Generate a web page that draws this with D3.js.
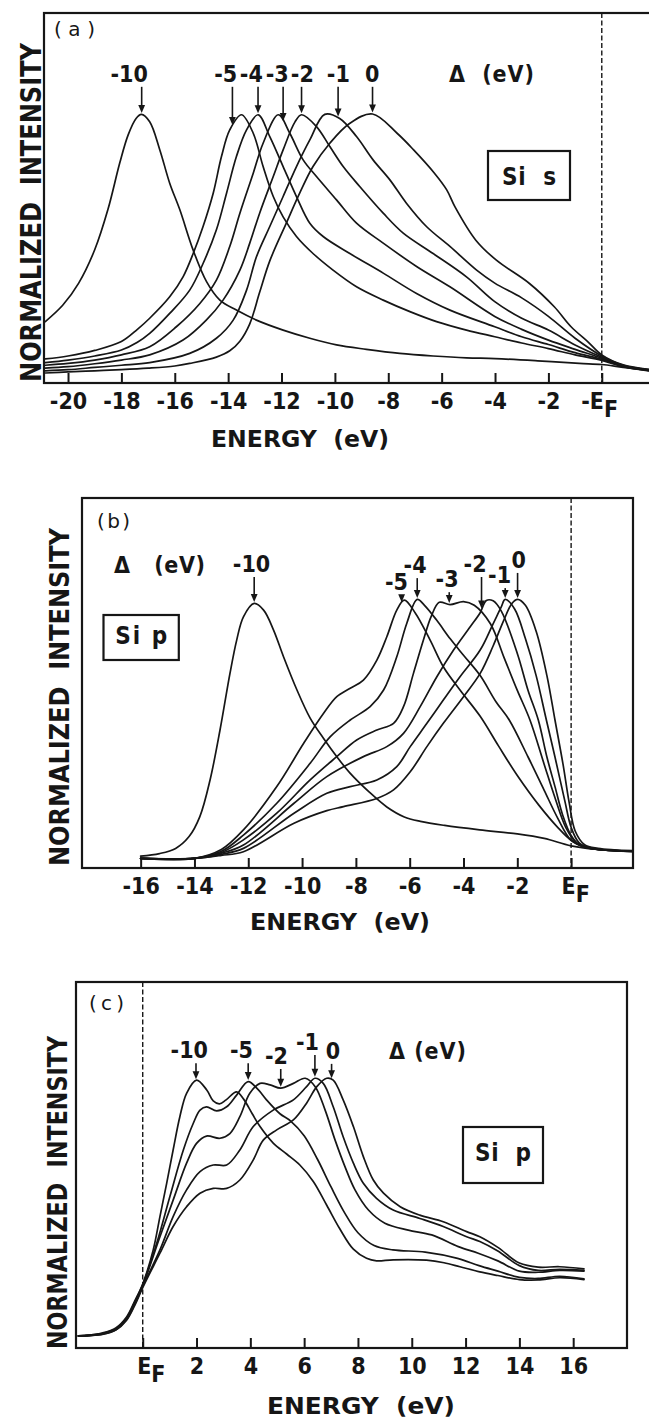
<!DOCTYPE html>
<html><head><meta charset="utf-8">
<script src="https://cdn.jsdelivr.net/npm/d3@7"></script>
<style>
body{margin:0;background:#fff}
svg{display:block;background:#fff}
text{font-family:"DejaVu Sans Condensed","DejaVu Sans",sans-serif;fill:#161616;white-space:pre}
</style></head><body>
<script>
// ---------------- DATA ----------------
// Panel (a): Si s, energy (eV) vs normalized intensity (0-100 of frame height)
const deltaA = ["-10","-5","-4","-3","-2","-1","0"];
const a_d10 = [[-20.85,16.6],[-20.2,21],[-19.6,27],[-19.0,36],[-18.5,47],[-18.06,59.5],[-17.75,67],[-17.45,71.5],[-17.25,72.6],[-16.94,70.6],[-16.56,63],[-16.19,54],[-15.81,46.8],[-15.31,35.9],[-14.81,27.4],[-14.31,22.4],[-13.69,19.7],[-12.94,17],[-11.94,14.3],[-10.94,12.1],[-9.94,10.3],[-8.82,9.1],[-7.57,8.0],[-6.32,7.3],[-5.07,6.8],[-4.0,6.6],[-2.4,6.0],[-0.84,5.3],[0,5.0],[0.8,4.2],[1.76,3.4]];
const a_d5 = [[-20.85,6.5],[-20,7.3],[-19,8.8],[-18,11.2],[-17.4,14.5],[-16.94,17.5],[-16.19,23.3],[-15.69,28.7],[-15.31,35],[-14.94,42.3],[-14.56,51.3],[-14.25,61.2],[-13.94,68.4],[-13.5,72.5],[-13.06,67.5],[-12.69,58.5],[-12.31,50.4],[-11.94,44.9],[-11.44,39.6],[-10.82,35],[-10.07,30.5],[-9.19,26],[-8.19,22.4],[-7.19,19.3],[-6.19,16.6],[-5.07,14.3],[-4.01,12.5],[-3,10.8],[-2,9.3],[-1,7.6],[0,6.1],[0.8,4.4],[1.76,3.3]];
const a_d4 = [[-20.85,5.5],[-20,6.2],[-19,7.3],[-18,8.9],[-17.4,11],[-16.94,13.4],[-16.19,18.8],[-15.44,25.1],[-14.94,32.3],[-14.44,41.4],[-14.06,51.3],[-13.69,61.2],[-13.31,68.4],[-12.88,72.5],[-12.44,66.6],[-11.94,58.5],[-11.44,50.4],[-10.94,43.2],[-10.44,39.6],[-9.44,35],[-8.19,29.7],[-6.94,24.2],[-5.69,19.7],[-4.01,15.2],[-3,12.5],[-2,10.4],[-1,8.2],[0,6.4],[0.8,4.5],[1.76,3.4]];
const a_d3 = [[-20.85,4.8],[-20,5.3],[-19,6.2],[-18,7.6],[-16.94,9.8],[-15.94,15.2],[-15.06,21.5],[-14.44,27.8],[-13.94,36.9],[-13.56,45.9],[-13.06,56.7],[-12.69,64.8],[-12.12,72.5],[-11.69,67.5],[-11.19,60.3],[-10.69,55.8],[-9.94,49.5],[-9.19,43.2],[-8.19,37.8],[-6.94,31.5],[-5.69,26],[-4.01,18],[-3,14.5],[-2,11.6],[-1,9.1],[0,6.7],[0.8,4.6],[1.76,3.5]];
const a_d2 = [[-20.85,4.0],[-20,4.4],[-19,5.2],[-18,6.2],[-16.94,7.6],[-15.69,11.6],[-14.82,17.0],[-14.19,22.4],[-13.56,30.5],[-13.19,37.8],[-12.82,45.9],[-12.31,55.8],[-11.94,63],[-11.5,70.5],[-11.25,72.5],[-10.69,69.3],[-10.19,63.9],[-9.69,58.5],[-9.07,53.1],[-8.19,45.9],[-7.44,40.5],[-6.32,35],[-5.07,28.7],[-4.01,22],[-3,17.5],[-2,14.3],[-1,10.3],[0,7.0],[0.8,4.7],[1.76,3.5]];
const a_d1 = [[-20.85,3.3],[-20,3.6],[-19,4.2],[-18,4.8],[-16.94,5.5],[-15.44,8.0],[-14.44,12.1],[-13.81,17.0],[-13.31,25.1],[-12.94,34.1],[-12.44,42.3],[-11.94,50.4],[-11.44,58.5],[-10.94,65.7],[-10.38,72.6],[-9.82,71.5],[-9.19,66.6],[-8.57,60.3],[-7.94,54.9],[-7.32,48.6],[-6.57,42.3],[-5.69,36.9],[-4.69,30.5],[-4.01,27],[-3,23],[-2,18],[-1,12.1],[0,7.3],[0.8,4.8],[1.76,3.6]];
const a_d0 = [[-20.85,2.7],[-20,3.0],[-19,3.3],[-18,3.6],[-17,4.0],[-16,4.6],[-15.44,5.3],[-14.44,7.0],[-13.94,8.7],[-13.56,11.3],[-13.19,16],[-12.82,24.5],[-12.44,33],[-11.82,43.2],[-11.32,51.3],[-10.82,58.5],[-10.19,64.8],[-9.44,70.2],[-8.59,72.7],[-7.67,67.5],[-7.05,63],[-6.27,56.7],[-5.81,52.2],[-5.5,47.6],[-4.72,38.6],[-3.95,33.2],[-2.71,26.9],[-1.78,20.6],[-1.15,15.2],[-0.5,11],[0,7.6],[0.8,4.9],[1.76,3.7]];
const peakLabelEA = [-17.71,-14.09,-13.13,-12.16,-11.22,-9.87,-8.6];
const arrowEA = [-17.24,-13.84,-12.88,-11.94,-11.25,-9.88,-8.59];
const labelVA = [81.4,81.4,81.4,81.4,81.4,81.4,81.4];
const ticksA = [-20,-18,-16,-14,-12,-10,-8,-6,-4,-2,0];

// Panel (b): Si p, occupied side
const deltaB = ["-10","-5","-4","-3","-2","-1","0"];
const b_d10 = [[-16,3.2],[-15.3,3.9],[-14.7,5.3],[-14.2,8.5],[-13.8,13.9],[-13.42,23.8],[-13.05,37.3],[-12.68,52.6],[-12.43,61.6],[-12.18,67.9],[-11.78,71.5],[-11.43,69.7],[-11.06,64.3],[-10.69,57.1],[-10.19,48.1],[-9.7,40.5],[-9.2,35],[-8.7,30],[-8.2,25.5],[-7.5,20.5],[-6.85,16.5],[-6.2,13.8],[-5.6,12.6],[-4.7,11.5],[-3.4,10.3],[-2,9.2],[-1,8],[0,6],[1,5],[2.3,4.6]];
const b_d5 = [[-16,2.6],[-14,2.6],[-13,5],[-12.18,10.3],[-10.94,22],[-9.94,33.7],[-9.2,41.8],[-8.71,46.3],[-8.21,48.6],[-7.72,50.8],[-7.22,56.2],[-6.85,62.5],[-6.48,69.7],[-6.2,72.4],[-5.8,69],[-5.24,61.6],[-4.75,54.4],[-4.13,48.1],[-3.38,41],[-2.7,33],[-2.0,25],[-1.2,17],[-0.5,11],[0,7.5],[0.5,5.6],[1.2,4.9],[2.3,4.5]];
const b_d4 = [[-16,2.6],[-14,2.6],[-13,4.5],[-12.18,8.9],[-10.94,17.5],[-9.7,28.3],[-8.95,35.5],[-8.21,40],[-7.47,43.6],[-6.97,48.1],[-6.48,57.1],[-6.11,66.1],[-5.72,72.6],[-5.45,71],[-5.0,67],[-4.5,62],[-4.0,57.5],[-3.38,52],[-2.8,45],[-2.3,40],[-1.6,30],[-1.0,21],[-0.5,13.5],[0,7.5],[0.5,5.7],[1.2,4.9],[2.3,4.5]];
const b_d3 = [[-16,2.6],[-14,2.6],[-13,4.2],[-12.18,7.6],[-10.94,14.8],[-9.7,23.8],[-8.71,30.1],[-7.97,34.6],[-7.22,37.3],[-6.6,39.1],[-6.23,43.6],[-5.86,52.6],[-5.49,61.6],[-5.2,68],[-4.9,71.8],[-4.5,71.2],[-4.0,72],[-3.6,71],[-3.0,66],[-2.5,57],[-2.0,48],[-1.53,40],[-1.0,28],[-0.6,19],[-0.2,11],[0.2,6.8],[0.7,5.4],[1.3,4.8],[2.3,4.5]];
const b_d2 = [[-16,2.6],[-14,2.6],[-13,4],[-12.18,6.2],[-10.3,17.5],[-9.08,24.7],[-7.72,30.1],[-6.85,32.8],[-6.23,36.4],[-5.61,43.6],[-4.99,51.7],[-4.37,58.9],[-3.75,65.2],[-3.38,69],[-3.15,72.3],[-2.9,72.2],[-2.6,69.5],[-2.0,58],[-1.6,48],[-1.22,40],[-0.9,30],[-0.6,22],[-0.3,14],[0,8.8],[0.3,6.3],[0.8,5.2],[1.5,4.7],[2.3,4.5]];
const b_d1 = [[-16,2.6],[-14,2.6],[-13,3.7],[-12.18,5.3],[-10.3,14.8],[-9.08,20.2],[-8.21,22],[-7.22,23.8],[-6.48,27.4],[-5.98,32.8],[-5.36,39.1],[-4.75,45.4],[-4.13,51.7],[-3.38,58.9],[-2.9,66],[-2.6,70.5],[-2.45,72.6],[-2.1,70],[-1.7,62],[-1.3,52],[-0.92,40],[-0.6,30],[-0.23,18],[0,11],[0.3,6.8],[0.8,5.3],[1.5,4.8],[2.3,4.6]];
const b_d0 = [[-16,2.6],[-14,2.6],[-13,3.4],[-12.18,4.4],[-10.3,12.1],[-9.08,15.5],[-8.46,16.6],[-7.22,18.8],[-6.6,21.1],[-5.98,26],[-5.36,32.8],[-4.75,39.1],[-4.0,46.3],[-3.38,52.6],[-2.9,60],[-2.5,67],[-2.2,71.5],[-1.99,72.6],[-1.7,71],[-1.3,64],[-0.9,52],[-0.6,40],[-0.3,28],[-0.08,18],[0.15,10],[0.5,6.3],[1,5.3],[1.6,4.9],[2.3,4.7]];
const peakLabelEB = [-11.88,-6.49,-5.8,-4.61,-3.57,-2.66,-1.95];
const arrowEB = [-11.78,-6.3,-5.72,-4.53,-3.33,-2.45,-1.99];
const labelVB = [80,75.1,79.7,75.9,80,77,81.1];
const ticksB = [-16,-14,-12,-10,-8,-6,-4,-2,0];

// Panel (c): Si p, unoccupied side
const deltaC = ["-10","-5","-2","-1","0"];
const c_d10 = [[-2.39,3.3],[-2.0,3.5],[-1.5,4.1],[-1.0,5.5],[-0.6,8.5],[-0.3,12.8],[0,17.5],[0.39,26.8],[0.64,35.9],[0.89,45],[1.13,54.1],[1.38,63.2],[1.63,69.6],[2.0,73.2],[2.38,70.5],[2.62,67.5],[2.85,66.7],[3.1,67.8],[3.49,70],[3.75,68],[4.07,64],[4.36,60.5],[4.85,56],[5.35,53],[5.84,50],[6.34,45.5],[6.84,39],[7.33,32.5],[7.83,27],[8.32,24.5],[8.69,23.8],[9.31,24.1],[10.55,24],[11.2,23.3],[11.79,22.2],[12.53,20.8],[13.2,19.8],[14,18.7],[14.7,18.6],[15.5,19.2],[16.4,18.7]];
const c_d5 = [[-2.39,3.3],[-2.0,3.5],[-1.5,4.0],[-1.0,5.3],[-0.6,8.2],[-0.3,12.5],[0,17.3],[0.52,28.6],[1.01,41.4],[1.51,54.1],[1.88,61.4],[2.13,65],[2.37,65.9],[2.75,64.8],[3.12,65.9],[3.49,69.1],[3.92,72.8],[4.3,70.5],[4.6,67.8],[5.1,64],[5.5,62],[6.0,58],[6.5,51.5],[7.0,44],[7.5,37],[8.0,31.5],[8.6,28],[9.3,26.8],[10.5,26.2],[11.7,24.5],[12.5,22.5],[13.2,21],[14,19.3],[14.7,19],[15.5,19.6],[16.4,18.9]];
const c_d2 = [[-2.39,3.3],[-2.0,3.4],[-1.5,3.9],[-1.0,5.1],[-0.6,8.0],[-0.3,12.2],[0,17],[0.64,30.4],[1.13,40.4],[1.63,50.5],[2.0,55.9],[2.37,57.9],[2.87,57.3],[3.24,58.6],[3.61,63.2],[3.98,69.6],[4.36,72.3],[4.73,71.9],[5.13,71],[5.6,72.3],[6.04,73.7],[6.41,71.4],[6.78,65],[7.15,56.8],[7.52,49.5],[7.89,43.2],[8.39,37.7],[9.0,34.1],[9.87,32.2],[10.74,30.9],[11.73,27.7],[12.47,25.9],[13.2,23.8],[14,21],[14.7,20.7],[15.5,21.2],[16.4,21]];
const c_d1 = [[-2.39,3.3],[-2.0,3.4],[-1.5,3.8],[-1.0,5.0],[-0.6,7.8],[-0.3,11.9],[0,16.8],[0.64,26.8],[1.13,35.9],[1.63,43.2],[2.13,48.2],[2.62,50],[3.12,50],[3.61,54.1],[4.11,60.5],[4.85,65],[5.6,67.8],[6.09,71.4],[6.4,73.7],[6.71,72.3],[7.08,65.9],[7.45,57.7],[7.83,50.5],[8.2,45],[8.69,40.9],[9.31,37.7],[10.3,35.4],[11.17,33.2],[12.04,30.4],[12.53,29.1],[13.2,26.5],[14,22.5],[14.7,21.2],[15.5,21.5],[16.4,21.2]];
const c_d0 = [[-2.39,3.3],[-2.0,3.4],[-1.5,3.7],[-1.0,4.9],[-0.6,7.6],[-0.3,11.6],[0,16.5],[0.64,25.9],[1.13,33.2],[1.63,38.6],[2.13,42.3],[2.62,43.6],[3.12,43.6],[3.61,45.9],[4.11,51.4],[4.48,56.8],[4.98,59.6],[5.6,62.3],[6.09,66.9],[6.47,71.4],[6.84,73.7],[7.08,73.2],[7.45,67.8],[7.83,60.5],[8.2,52.3],[8.57,45.9],[8.95,42.3],[9.57,38.6],[10.3,36.3],[11.17,34.5],[12.04,31.8],[12.53,30.4],[13.2,27.5],[14,23.2],[14.7,22.1],[15.5,22.2],[16.4,21.6]];
const peakLabelEC = [1.73,3.67,4.97,6.12,7.07];
const arrowEC = [1.98,3.92,5.13,6.4,7.02];
const labelVC = [79.2,79.2,77.6,81.4,79];
const ticksC = [0,2,4,6,8,10,12,14,16];

// ---------------- DRAWING ----------------
const INK = "#161616";
const svg = d3.select("body").append("svg").attr("width",649).attr("height",1420);

function interp(data, e){
  for(let i=1;i<data.length;i++){
    if(data[i][0] >= e){
      const a=data[i-1], b=data[i], t=(e-a[0])/(b[0]-a[0]);
      return a[1]+t*(b[1]-a[1]);
    }
  }
  return data[data.length-1][1];
}

function drawPanel(P){
  const x = d3.scaleLinear().domain(P.xd).range(P.xr);
  const y = d3.scaleLinear().domain([0,100]).range([P.yb,P.yt]);
  const g = svg.append("g");
  const ln = d3.line().x(d=>x(d[0])).y(d=>y(d[1])).curve(d3.curveCatmullRom.alpha(0.5));
  g.selectAll("path.curve").data(P.curves).join("path").attr("class","curve")
    .attr("d",ln).attr("fill","none").attr("stroke",INK).attr("stroke-width",1.7)
    .attr("stroke-linejoin","round").attr("stroke-linecap","round");
  g.append("line").attr("x1",x(0)).attr("x2",x(0)).attr("y1",P.yt).attr("y2",P.yb)
    .attr("stroke",INK).attr("stroke-width",1.4).attr("stroke-dasharray","5,2.5");
  g.append("rect").attr("x",P.xr[0]).attr("y",P.yt).attr("width",P.xr[1]-P.xr[0]).attr("height",P.yb-P.yt)
    .attr("fill","none").attr("stroke",INK).attr("stroke-width",2.2);
  const ax = d3.axisBottom(x).tickValues(P.ticks).tickSizeInner(-10).tickSizeOuter(0).tickPadding(10)
    .tickFormat(d => d===0 ? "" : String(d));
  const ag = g.append("g").attr("transform",`translate(0,${P.yb})`).call(ax);
  ag.attr("font-family",null).attr("font-size",null);
  ag.select(".domain").remove();
  ag.selectAll(".tick line").attr("stroke",INK).attr("stroke-width",2);
  ag.selectAll(".tick text").attr("font-size",23).attr("fill",INK).style("font-weight","bold");
  ag.selectAll(".tick").filter(d=>d===0).select("text")
    .attr("text-anchor","start").attr("x",P.efdx)
    .call(t=>{ t.append("tspan").text(P.efText); t.append("tspan").attr("dy",8).text("F"); });

  // y label
  g.append("text").attr("transform",`translate(${P.ylx},${P.ylcy}) rotate(-90)`)
    .attr("text-anchor","middle").attr("font-size",P.ylfs).style("font-weight","bold")
    .attr("textLength",P.yllen).attr("lengthAdjust","spacingAndGlyphs")
    .text("NORMALIZED  INTENSITY");
  // x label
  g.append("text").attr("x",P.xlcx).attr("y",P.xlby).attr("text-anchor","middle").attr("font-size",23)
    .style("font-weight","bold")
    .attr("textLength",P.xllen).attr("lengthAdjust","spacingAndGlyphs").text("ENERGY  (eV)");
  // panel tag
  g.append("text").attr("x",P.tagx).attr("y",P.tagy).attr("font-size",20).style("font-weight","normal")
    .style("font-family","'DejaVu Sans',sans-serif")
    .attr("textLength",P.taglen).attr("lengthAdjust","spacing").text(P.tag);
  // delta label
  g.append("text").attr("x",P.dlx).attr("y",P.dly).attr("text-anchor","middle").attr("font-size",23)
    .style("font-weight","bold")
    .attr("textLength",P.dllen).attr("lengthAdjust","spacing").text(P.dlText);
  // box
  g.append("rect").attr("x",P.box[0]).attr("y",P.box[1]).attr("width",P.box[2]).attr("height",P.box[3])
    .attr("fill","#fff").attr("stroke",INK).attr("stroke-width",2.2);
  g.append("text").attr("x",P.box[0]+P.box[2]/2).attr("y",P.boxBase).attr("text-anchor","middle")
    .attr("font-size",24).style("font-weight","bold")
    .attr("textLength",P.boxLen).attr("lengthAdjust","spacing").text(P.boxText);

  // peak labels and arrows
  P.labels.forEach((lab,i)=>{
    const ly = y(P.labelV[i]);
    g.append("text").attr("x",x(P.labelE[i])).attr("y",ly).attr("text-anchor","middle")
      .attr("font-size",23).style("font-weight","bold").text(lab);
    const ax0 = x(P.arrowE[i]);
    const tip = y(interp(P.curves[i], P.arrowE[i])) - 1.5;
    const top = ly + 5;
    g.append("line").attr("x1",ax0).attr("x2",ax0).attr("y1",top).attr("y2",tip-6)
      .attr("stroke",INK).attr("stroke-width",1.6);
    g.append("path").attr("d",`M${ax0-3.4},${tip-8}L${ax0+3.4},${tip-8}L${ax0},${tip}Z`).attr("fill",INK);
  });
}

drawPanel({
  xd:[-20.9,2.5], xr:[44,668.5], yb:383, yt:13,
  curves:[a_d10,a_d5,a_d4,a_d3,a_d2,a_d1,a_d0],
  ticks:ticksA, efText:"-E", efdx:-21,
  ylx:41, ylcy:212.5, ylfs:29, yllen:339,
  xlcx:300, xlby:447, xllen:178,
  tag:"( a )", tagx:54, tagy:36, taglen:41,
  dlText:"Δ  (eV)", dlx:491.5, dly:82, dllen:85,
  box:[488,151,82,49], boxBase:185, boxText:"Si  s", boxLen:54,
  labels:deltaA, labelE:peakLabelEA, arrowE:arrowEA, labelV:labelVA
});
drawPanel({
  xd:[-18.18,2.3], xr:[82,633], yb:868, yt:498,
  curves:[b_d10,b_d5,b_d4,b_d3,b_d2,b_d1,b_d0],
  ticks:ticksB, efText:"E", efdx:-10,
  ylx:69, ylcy:697, ylfs:27, yllen:338,
  xlcx:340, xlby:930, xllen:180,
  tag:"(b)", tagx:97, tagy:528, taglen:33,
  dlText:"Δ   (eV)", dlx:159.5, dly:573, dllen:91,
  box:[103.5,615,75.3,45], boxBase:644, boxText:"Si p", boxLen:52,
  labels:deltaB, labelE:peakLabelEB, arrowE:arrowEB, labelV:labelVB
});
drawPanel({
  xd:[-2.48,18], xr:[76,627], yb:1348, yt:982,
  curves:[c_d10,c_d5,c_d2,c_d1,c_d0],
  ticks:ticksC, efText:"E", efdx:-6,
  ylx:66.5, ylcy:1192.5, ylfs:27, yllen:313,
  xlcx:361, xlby:1414, xllen:188,
  tag:"(c)", tagx:89, tagy:1010, taglen:35,
  dlText:"Δ (eV)", dlx:427.5, dly:1059, dllen:77,
  box:[463,1127,80,56], boxBase:1161, boxText:"Si  p", boxLen:56,
  labels:deltaC, labelE:peakLabelEC, arrowE:arrowEC, labelV:labelVC
});
</script>
</body></html>
